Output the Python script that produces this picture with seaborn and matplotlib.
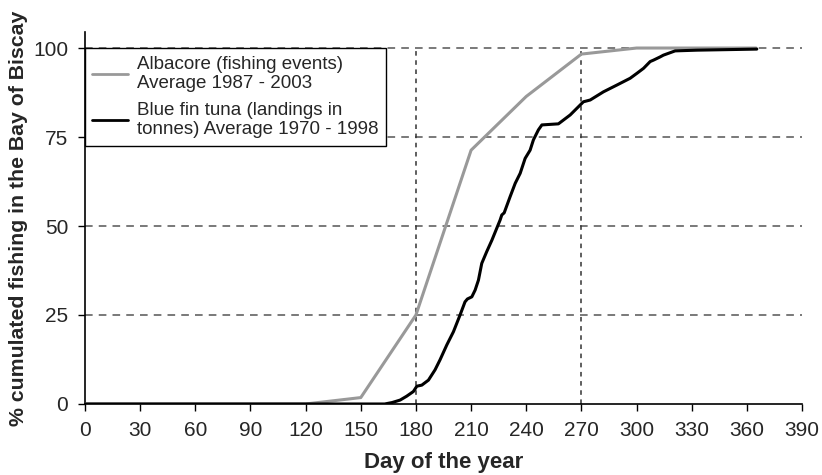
import matplotlib
matplotlib.use("Agg")
import matplotlib.pyplot as plt
import seaborn as sns
import pandas as pd

# Albacore (fishing events) average 1987-2003
alb_day = [0, 30, 60, 90, 120, 150, 180, 210, 240, 270, 300, 330, 365]
alb_pct = [0, 0, 0, 0, 0, 1.8, 25, 71.3, 86.4, 98.3, 100, 100, 100]

# Blue fin tuna (landings in tonnes) average 1970-1998
bft_day = [0, 100, 163, 167, 171.4, 175, 178.6, 180.5, 183.2, 186.8, 190.4, 193.1, 196.8,
           200.4, 204, 206.7, 208, 210.4, 212.2, 214, 215.8, 218.5, 221.3, 225.8, 226.7,
           228, 231.2, 234, 236.7, 239.4, 242.1, 243.9, 246.6, 248.5, 257.5, 263.9,
           271.1, 274.8, 282, 289.3, 296.5, 300.2, 303.8, 307.4, 309.2, 312.8, 314.6,
           321, 332.8, 354.6, 365.4]
bft_pct = [0, 0, 0, 0.4, 1.1, 2.2, 3.5, 5.0, 5.3, 6.7, 9.6, 12.4, 16.6,
           20.3, 25.0, 28.7, 29.5, 30.1, 32.0, 34.8, 39.5, 42.8, 46.0, 51.7, 53.1,
           53.7, 58.2, 62.0, 64.8, 69.0, 71.3, 74.2, 77.0, 78.4, 78.7, 81.2,
           84.9, 85.4, 87.7, 89.6, 91.5, 92.9, 94.3, 96.2, 96.6, 97.5, 98.0,
           99.2, 99.4, 99.6, 99.7]

labels = ["Albacore (fishing events)\nAverage 1987 - 2003",
          "Blue fin tuna (landings in\ntonnes) Average 1970 - 1998"]
x_ticks = list(range(0, 391, 30))
y_ticks = [0, 25, 50, 75, 100]
ref_days = [180, 270]

sns.set_style("ticks")
plt.rcParams["font.family"] = ["Liberation Sans", "DejaVu Sans"]

df = pd.concat([
    pd.DataFrame({"day": alb_day, "pct": alb_pct, "series": labels[0]}),
    pd.DataFrame({"day": bft_day, "pct": bft_pct, "series": labels[1]}),
])

fig = plt.figure(figsize=(8.22, 4.75), dpi=100)
ax = fig.add_axes([0.1034, 0.1495, 0.8723, 0.7831])

# reference grid lines
for yv in y_ticks[1:]:
    ax.axhline(yv, color="#555555", lw=1.1, ls=(0, (5, 4)), zorder=1)
for xv in ref_days:
    ax.plot([xv, xv], [0, 100], color="#333333", lw=1.1, ls=(0, (3, 3)), zorder=1)

sns.lineplot(data=df, x="day", y="pct", hue="series", hue_order=labels,
             palette=["#999999", "#000000"], ax=ax, estimator=None, sort=False,
             linewidth=2.2, zorder=3)
for ln, lw in zip(ax.get_lines()[-2:], [2.0, 2.4]):
    ln.set_linewidth(lw)

ax.set_xlim(0, 390)
ax.set_ylim(0, 104.5)
ax.set_xticks(x_ticks)
ax.set_yticks(y_ticks)
ax.tick_params(labelsize=15, length=5, width=1, color="black", pad=7)
for s in ["top", "right"]:
    ax.spines[s].set_visible(False)
for s in ["left", "bottom"]:
    ax.spines[s].set_color("black")
    ax.spines[s].set_linewidth(1.2)

ax.set_xlabel("Day of the year", fontsize=16, fontweight="bold", labelpad=9)
ax.set_ylabel("% cumulated fishing in the Bay of Biscay", fontsize=15.3,
              fontweight="bold", labelpad=4)

leg = ax.legend(loc="upper left", bbox_to_anchor=(0, 100 / 104.5), borderaxespad=0,
                fontsize=13.5, frameon=True, fancybox=False, framealpha=1,
                edgecolor="black", handlelength=1.9, handletextpad=0.5,
                labelspacing=0.5, borderpad=0.4, title=None)
leg.get_frame().set_linewidth(1.0)
for h in leg.get_lines():
    h.set_linewidth(2.0)

fig.savefig("out.png", dpi=100)
